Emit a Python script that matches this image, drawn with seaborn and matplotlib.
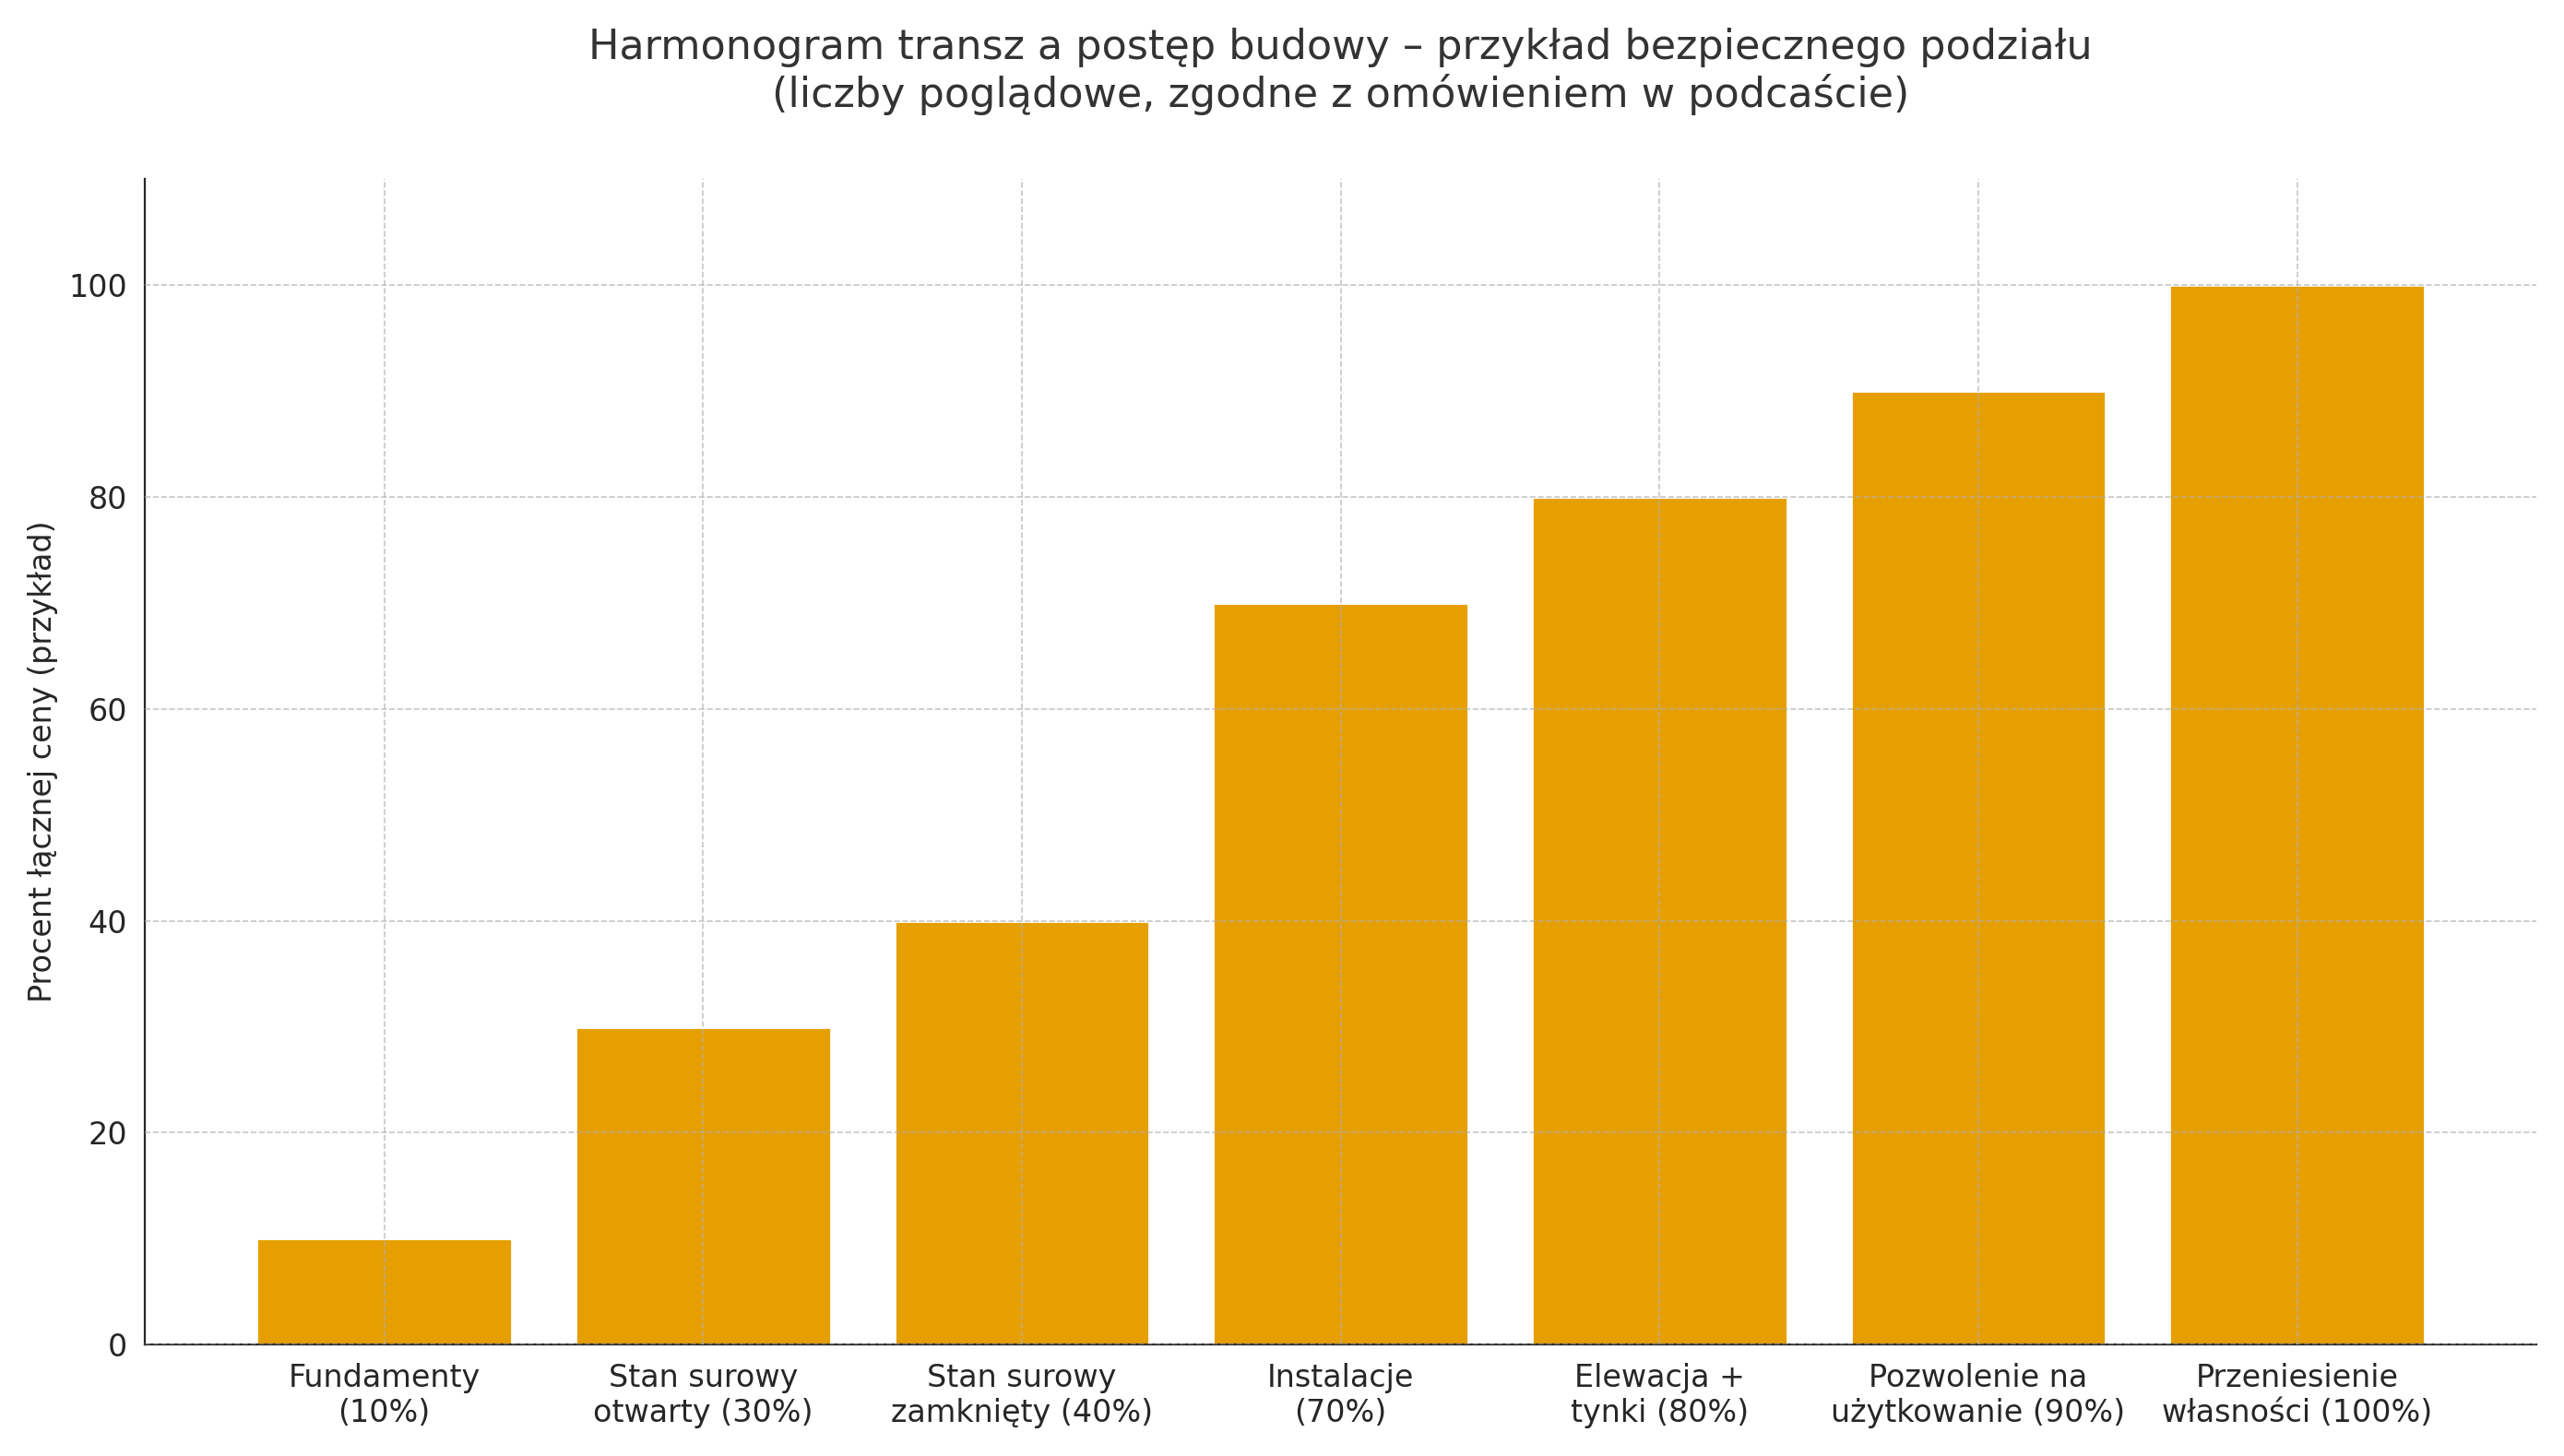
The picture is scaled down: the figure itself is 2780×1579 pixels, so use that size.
import matplotlib
matplotlib.use('Agg')
import matplotlib.pyplot as plt
import seaborn as sns
import pandas as pd

etapy = ['Fundamenty\n(10%)', 'Stan surowy\notwarty (30%)', 'Stan surowy\nzamknięty (40%)',
         'Instalacje\n(70%)', 'Elewacja +\ntynki (80%)', 'Pozwolenie na\nużytkowanie (90%)',
         'Przeniesienie\nwłasności (100%)']
procent = [10, 30, 40, 70, 80, 90, 100]

df = pd.DataFrame({'etap': etapy, 'procent': procent})

sns.set_style('white')
plt.rcParams['font.family'] = ['DejaVu Sans']

fig, ax = plt.subplots(figsize=(13.9, 7.895), dpi=200)
sns.barplot(data=df, x='etap', y='procent', color='#E69F00', saturation=1, width=0.8, ax=ax)
ax.set_ylim(0, 110)
ax.set_xlim(-0.75, 6.75)
ax.grid(True, linestyle='--', linewidth=0.6, color='#b0b0b0', alpha=0.7)
ax.set_axisbelow(False)
ax.set_xlabel('')
ax.set_ylabel('Procent łącznej ceny (przykład)', fontsize=12)
ax.tick_params(labelsize=12)
ax.set_title('Harmonogram transz a postęp budowy – przykład bezpiecznego podziału\n'
             '(liczby poglądowe, zgodne z omówieniem w podcaście)', fontsize=16, color='#333333', pad=28)
sns.despine(ax=ax)
plt.tight_layout()
plt.savefig('out.png')
